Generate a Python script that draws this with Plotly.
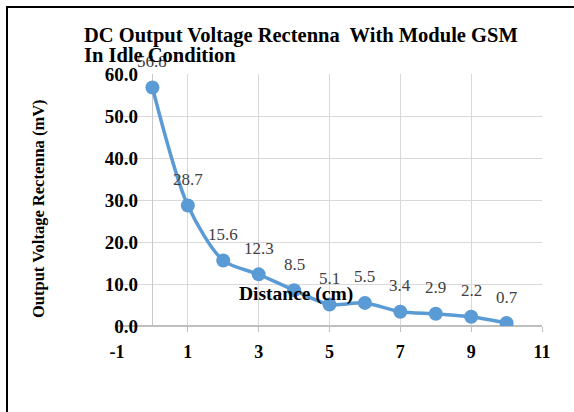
import plotly.graph_objects as go

distance_cm = [0, 1, 2, 3, 4, 5, 6, 7, 8, 9, 10]
voltage_mv = [56.8, 28.7, 15.6, 12.3, 8.5, 5.1, 5.5, 3.4, 2.9, 2.2, 0.7]
value_labels = ["56.8", "28.7", "15.6", "12.3", "8.5", "5.1", "5.5", "3.4", "2.9", "2.2", "0.7"]
x_tick_vals = [-1, 1, 3, 5, 7, 9, 11]
x_tick_labels = ["-1", "1", "3", "5", "7", "9", "11"]
y_tick_vals = [0, 10, 20, 30, 40, 50, 60]
y_tick_labels = ["0.0", "10.0", "20.0", "30.0", "40.0", "50.0", "60.0"]

title_lines = ["DC Output Voltage Rectenna  With Module GSM", "In Idle Condition"]
x_title = "Distance (cm)"
y_title = "Output Voltage Rectenna (mV)"

FONT = "Liberation Serif, Times New Roman, serif"
W, H = 574, 412
L, R, T, B = 117, 32, 74, 86

fig = go.Figure()
fig.add_trace(go.Scatter(
    x=distance_cm, y=voltage_mv, mode="lines+markers",
    line=dict(color="#5B9BD5", width=3.5, shape="spline", smoothing=0.8),
    marker=dict(color="#5B9BD5", size=14),
    showlegend=False, hoverinfo="skip",
))

for xv, yv, lab in zip(distance_cm, voltage_mv, value_labels):
    fig.add_annotation(x=xv, y=yv, text=lab, showarrow=False, yshift=26,
                       font=dict(family=FONT, size=17, color="#404040"))

pw = W - L - R
ph = H - T - B

def px_x(p):
    return (p - L) / pw

def px_y(p):
    return (H - B - p) / ph

# chart title (two lines, tight spacing)
for line, cy in zip(title_lines, [35, 55]):
    fig.add_annotation(xref="paper", yref="paper", x=px_x(82), y=px_y(cy),
                       xanchor="left", yanchor="middle",
                       text="<b>" + line + "</b>", showarrow=False,
                       font=dict(family=FONT, size=20.5, color="black"))

fig.add_annotation(xref="paper", yref="paper", x=px_x(296), y=px_y(294),
                   xanchor="center", yanchor="middle",
                   text="<b>" + x_title + "</b>", showarrow=False,
                   font=dict(family=FONT, size=19.5, color="black"))
fig.add_annotation(xref="paper", yref="paper", x=px_x(38), y=px_y(209),
                   xanchor="center", yanchor="middle",
                   text="<b>" + y_title + "</b>", showarrow=False, textangle=-90,
                   font=dict(family=FONT, size=16.5, color="black"))

fig.add_shape(type="rect", xref="paper", yref="paper",
              x0=px_x(7), x1=px_x(590), y0=px_y(430), y1=px_y(7),
              line=dict(color="black", width=2), fillcolor="rgba(0,0,0,0)", layer="below")

fig.update_layout(
    width=W, height=H,
    margin=dict(l=L, r=R, t=T, b=B, pad=0),
    paper_bgcolor="white", plot_bgcolor="white",
    xaxis=dict(range=[-1, 11], tickmode="array", tickvals=x_tick_vals, ticktext=x_tick_labels,
               showgrid=True, gridcolor="#d9d9d9", gridwidth=1,
               zeroline=True, zerolinecolor="#c8c8c8", zerolinewidth=1,
               showline=False, ticks="outside", ticklen=5, tickcolor="#bfbfbf",
               ticklabelstandoff=4,
               tickfont=dict(family=FONT, size=18, color="black", weight="bold"),
               fixedrange=True),
    yaxis=dict(range=[0, 60], tickmode="array", tickvals=y_tick_vals, ticktext=y_tick_labels,
               showgrid=True, gridcolor="#d9d9d9", gridwidth=1,
               zeroline=True, zerolinecolor="#bfbfbf", zerolinewidth=1.5,
               showline=False, ticks="", ticklabelstandoff=-22,
               tickfont=dict(family=FONT, size=19, color="black", weight="bold"),
               fixedrange=True),
)

fig.write_html("out.html", config={"displayModeBar": False},
               post_script="document.body.style.margin='0';document.body.style.overflow='hidden';")
